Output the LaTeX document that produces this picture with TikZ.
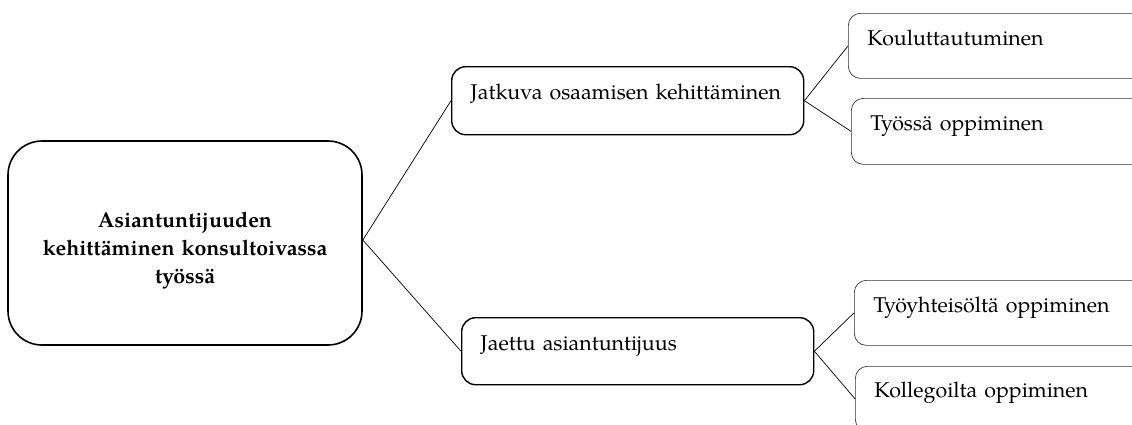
\documentclass[tikz,border=0pt]{standalone}
\usepackage{fontspec}
\setmainfont{TeX Gyre Pagella}
\begin{document}
\begin{tikzpicture}[x=1pt,y=-1pt,
  txt/.style={font=\fontsize{21.4}{28}\selectfont},
  mainbox/.style={draw=black, line width=1.6pt, rounded corners=34pt, txt,
    align=center, text width=320pt},
  midbox/.style={draw=black, line width=1.4pt, rounded corners=14pt, txt,
    anchor=north west, inner xsep=19pt, inner ysep=0pt, align=left},
  leafbox/.style={draw=black!80, line width=0.7pt, rounded corners=12pt, txt,
    anchor=north west, inner xsep=19pt, inner ysep=0pt, align=left},
  link/.style={draw=black, line width=0.7pt}]
\useasboundingbox (0,0) rectangle (1132,424);
\clip (0,0) rectangle (1132,424);

% root
\node[mainbox, minimum width=354pt, minimum height=204pt] (root) at (185,243)
  {\bfseries\rule{0pt}{30pt}Asiantuntijuuden\\ \bfseries kehittäminen konsultoivassa\\ \bfseries työssä};

% second level
\node[midbox, text width=314pt, text height=33pt, text depth=35pt] (jatk) at (451,66)
  {Jatkuva osaamisen kehittäminen};
\node[midbox, text width=314pt, text height=33pt, text depth=34pt] (jaet) at (461,317)
  {Jaettu asiantuntijuus};

% leaves
\node[leafbox, text width=262pt, text height=32pt, text depth=33pt] (kou) at (848,13)
  {Kouluttautuminen};
\node[leafbox, text width=262pt, text height=32pt, text depth=34pt] (tyo) at (851,98)
  {Työssä oppiminen};
\node[leafbox, text width=262pt, text height=32pt, text depth=33pt] (yht) at (854,280)
  {Työyhteisöltä oppiminen};
\node[leafbox, text width=262pt, text height=31pt, text depth=34pt] (kol) at (855,366)
  {Kollegoilta oppiminen};

% connectors
\draw[link] ([yshift=3pt]root.east) -- (jatk.west);
\draw[link] ([yshift=3pt]root.east) -- (jaet.west);
\draw[link] (jatk.east) -- (kou.west);
\draw[link] (jatk.east) -- (tyo.west);
\draw[link] (jaet.east) -- (yht.west);
\draw[link] (jaet.east) -- (kol.west);
\end{tikzpicture}
\end{document}
